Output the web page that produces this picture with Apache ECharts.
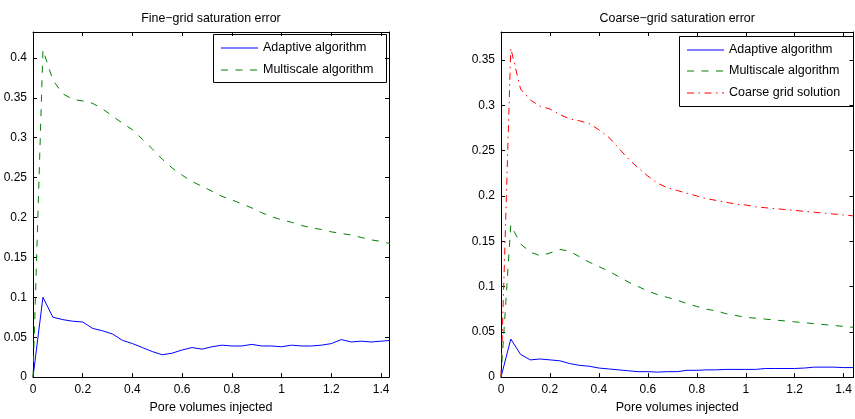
<!DOCTYPE html>
<html>
<head>
<meta charset="utf-8">
<script src="https://cdn.jsdelivr.net/npm/echarts@6/dist/echarts.min.js"></script>
<style>
html,body{margin:0;padding:0;background:#fff;}
#c{width:855px;height:419px;}
</style>
</head>
<body>
<div id="c"></div>
<script>
// Pore volumes injected (x positions of samples)
var poreVolumes = [0,0.04,0.08,0.12,0.16,0.2,0.24,0.28,0.32,0.36,0.4,0.44,0.48,0.52,0.56,0.6,0.64,0.68,0.72,0.76,0.8,0.84,0.88,0.92,0.96,1.0,1.04,1.08,1.12,1.16,1.2,1.24,1.28,1.32,1.36,1.4,1.44];

// Fine-grid saturation error
var fineAdaptive = [0,0.100,0.075,0.072,0.070,0.069,0.061,0.058,0.054,0.046,0.042,0.037,0.032,0.028,0.030,0.034,0.037,0.035,0.038,0.040,0.039,0.039,0.041,0.039,0.039,0.038,0.040,0.039,0.039,0.040,0.042,0.047,0.044,0.045,0.044,0.045,0.046];
var fineMultiscale = [0,0.410,0.372,0.355,0.348,0.346,0.343,0.336,0.327,0.318,0.310,0.298,0.286,0.273,0.262,0.253,0.245,0.239,0.233,0.2265,0.222,0.217,0.212,0.206,0.201,0.197,0.194,0.190,0.187,0.185,0.182,0.180,0.178,0.175,0.172,0.170,0.167];

// Coarse-grid saturation error
var coarseAdaptive = [0,0.042,0.025,0.019,0.020,0.019,0.018,0.015,0.013,0.012,0.010,0.009,0.008,0.007,0.006,0.006,0.0055,0.006,0.006,0.0075,0.0075,0.008,0.008,0.0085,0.0085,0.0085,0.0085,0.0095,0.0095,0.0095,0.0095,0.010,0.011,0.011,0.011,0.0105,0.0105];
var coarseMultiscale = [0,0.168,0.147,0.138,0.134,0.137,0.141,0.139,0.133,0.127,0.122,0.117,0.111,0.105,0.100,0.095,0.091,0.088,0.085,0.081,0.078,0.075,0.073,0.070,0.068,0.066,0.065,0.064,0.063,0.062,0.061,0.060,0.059,0.058,0.057,0.056,0.055];
var coarseGrid = [0,0.363,0.318,0.306,0.299,0.296,0.290,0.285,0.283,0.280,0.273,0.265,0.253,0.241,0.231,0.222,0.214,0.209,0.206,0.203,0.200,0.197,0.195,0.193,0.191,0.190,0.188,0.187,0.186,0.185,0.184,0.183,0.182,0.181,0.180,0.179,0.178];

var seriesNames = ['Adaptive algorithm','Multiscale algorithm','Coarse grid solution'];
var seriesColors = ['#0000ff','#008000','#ff0000'];
var titles = ['Fine\u2212grid saturation error','Coarse\u2212grid saturation error'];
var xLabel = 'Pore volumes injected';

var FONT = '"Liberation Sans", Arial, Helvetica, sans-serif';
var DASH = [7,7.5];
var DASHDOT = [7,4.5,1.5,4.5];
var seriesDash = [null, DASH, DASHDOT];

function pts(arr){ return poreVolumes.map(function(x,i){ return [x, arr[i]]; }); }

function xAx(gi, pos, max, name, nameGap){
  return {
    type:'value', gridIndex:gi, position:pos, min:0, max:max, interval:0.2,
    axisLine:{show:true, onZero:false, lineStyle:{color:'#000', width:1}},
    axisTick:{show:true, inside:true, length:4, lineStyle:{color:'#000'}},
    axisLabel:{show:pos==='bottom', color:'#000', fontSize:12, fontFamily:FONT, margin:7, showMaxLabel:false},
    splitLine:{show:false},
    name:name, nameLocation:'middle', nameGap:nameGap,
    nameTextStyle:{color:'#000', fontSize: pos==='bottom'?12.5:12.4, fontFamily:FONT}
  };
}
function yAx(gi, pos, max){
  return {
    type:'value', gridIndex:gi, position:pos, min:0, max:max, interval:0.05,
    axisLine:{show:true, onZero:false, lineStyle:{color:'#000', width:1}},
    axisTick:{show:true, inside:true, length:4, lineStyle:{color:'#000'}},
    axisLabel:{show:pos==='left', color:'#000', fontSize:12, fontFamily:FONT, margin:6, showMaxLabel:false},
    splitLine:{show:false}
  };
}
function line(k, arr, xi, yi){
  return {
    type:'line', name:seriesNames[k], xAxisIndex:xi, yAxisIndex:yi, data:pts(arr),
    symbol:'none', smooth:false, animation:false,
    lineStyle:{color:seriesColors[k], width:1, type:seriesDash[k] || 'solid'},
    itemStyle:{color:seriesColors[k]}
  };
}
// Legend boxes drawn as graphic groups (box + sample line + text per entry)
function legendBox(count, x, y, w, h, firstRow, rowGap){
  var children = [{
    type:'rect', shape:{x:0.5, y:0.5, width:w, height:h},
    style:{fill:'#fff', stroke:'#000', lineWidth:1}
  }];
  for (var k = 0; k < count; k++) {
    var ly = Math.round(firstRow + k*rowGap);
    children.push({
      type:'line', shape:{x1:8, y1:ly, x2:45, y2:ly},
      style:{stroke:seriesColors[k], lineWidth:1.2, lineDash:seriesDash[k]}
    });
    children.push({
      type:'text', x:50, y:ly,
      style:{text:seriesNames[k], fill:'#000', font:'12.5px ' + FONT, textVerticalAlign:'middle', verticalAlign:'middle'}
    });
  }
  return {type:'group', x:x, y:y, z:100, children:children};
}

var chart = echarts.init(document.getElementById('c'), null, {renderer:'canvas'});
chart.setOption({
  backgroundColor:'#fff',
  animation:false,
  textStyle:{fontFamily:FONT},
  grid:[
    {left:33, top:32, width:356, height:355, containLabel:false},
    {left:501, top:32, width:356, height:355, containLabel:false}
  ],
  xAxis:[
    xAx(0,'bottom',1.432,xLabel,19),
    xAx(0,'top',1.432,titles[0],7),
    xAx(1,'bottom',1.44,xLabel,19),
    xAx(1,'top',1.44,titles[1],7)
  ],
  yAxis:[
    yAx(0,'left',0.4324),
    yAx(0,'right',0.4324),
    yAx(1,'left',0.381),
    yAx(1,'right',0.381)
  ],
  graphic:[
    legendBox(2, 213, 34, 173, 48, 14, 22.3),
    legendBox(3, 679, 36, 174, 70, 13.5, 21.7)
  ],
  series:[
    line(0, fineAdaptive, 0, 0),
    line(1, fineMultiscale, 0, 0),
    line(0, coarseAdaptive, 2, 2),
    line(1, coarseMultiscale, 2, 2),
    line(2, coarseGrid, 2, 2)
  ]
});
</script>
</body>
</html>
